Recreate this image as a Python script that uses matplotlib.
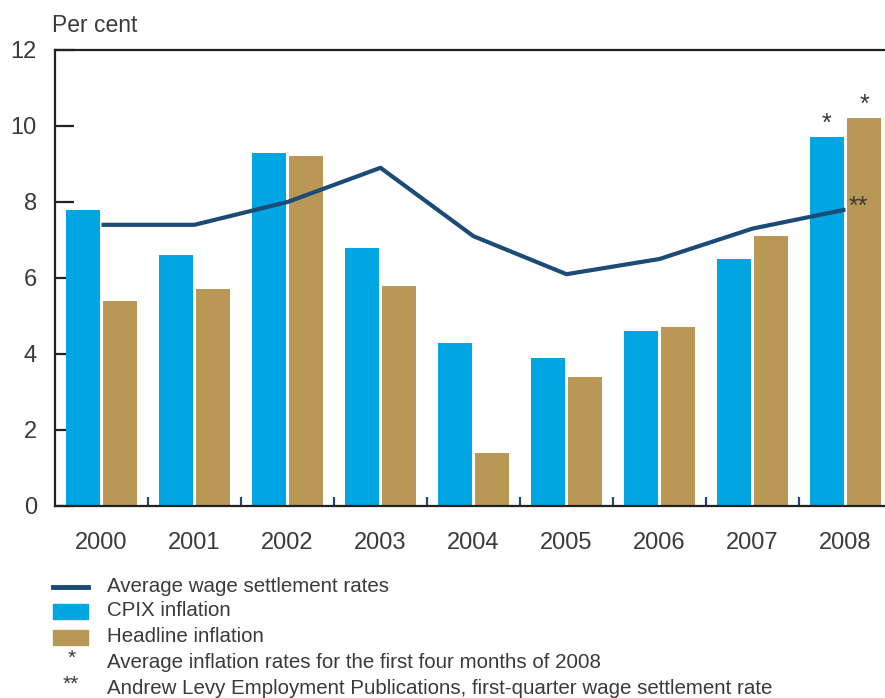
import matplotlib.pyplot as plt
from matplotlib.lines import Line2D
from matplotlib.patches import Rectangle
import numpy as np

plt.rcParams['font.family'] = ['Liberation Sans', 'DejaVu Sans']

# Data
years = ["2000", "2001", "2002", "2003", "2004", "2005", "2006", "2007", "2008"]
cpix = [7.8, 6.6, 9.3, 6.8, 4.3, 3.9, 4.6, 6.5, 9.7]
headline = [5.4, 5.7, 9.2, 5.8, 1.4, 3.4, 4.7, 7.1, 10.2]
wage = [7.4, 7.4, 8.0, 8.9, 7.1, 6.1, 6.5, 7.3, 7.8]

blue = "#00a6e2"
tan = "#b99755"
navy = "#1b4b76"
txt = "#3a3a3a"

fig = plt.figure(figsize=(8.85, 6.98), dpi=100)
W, H = 885, 698
ax = fig.add_axes([55 / W, 1 - 506 / H, 1 - 55 / W, (506 - 50) / H])

x = np.arange(len(years))
bw = 0.366
ax.bar(x - 0.2, cpix, width=bw, color=blue, zorder=2)
ax.bar(x + 0.2, headline, width=bw, color=tan, zorder=2)
ax.plot(x, wage, color=navy, lw=3, zorder=3, solid_capstyle="butt")

ax.set_xlim(-0.5, 8.425)
ax.set_ylim(0, 12)

for s in ["left", "top", "bottom"]:
    ax.spines[s].set_linewidth(1.6)
    ax.spines[s].set_color("#222222")
ax.spines["right"].set_visible(False)

ax.set_yticks(range(0, 13, 2))
ax.tick_params(axis="y", direction="in", length=14, width=1.6, color="#222222",
               labelsize=17, labelcolor=txt, pad=13)
ax.set_xticks(x)
ax.set_xticklabels(years)
ax.tick_params(axis="x", which="major", length=0, labelsize=17, labelcolor=txt, pad=19)
ax.set_xticks(x[:-1] + 0.5, minor=True)
ax.tick_params(axis="x", which="minor", direction="in", length=6.5, width=1.6, color=navy)

fig.text(52 / W, 1 - 25 / H, "Per cent", fontsize=16.5, color=txt, ha="left", va="center")

# footnote markers
ax.annotate("*", (x[-1] - 0.2, cpix[-1]), xytext=(0, 1), textcoords="offset points",
            ha="center", va="bottom", fontsize=18, color=txt)
ax.annotate("*", (x[-1] + 0.2, headline[-1]), xytext=(0, 1), textcoords="offset points",
            ha="center", va="bottom", fontsize=18, color=txt)
ax.annotate("**", (x[-1], wage[-1]), xytext=(2, 2), textcoords="offset points",
            ha="left", va="center", fontsize=18, color=txt)

# legend
def fy(py):
    return 1 - py / H

fig.add_artist(Line2D([53 / W, 88 / W], [fy(587), fy(587)], color=navy, lw=3.5))
fig.add_artist(Rectangle((53 / W, fy(619)), 35 / W, 15 / H, color=blue))
fig.add_artist(Rectangle((53 / W, fy(645)), 35 / W, 15 / H, color=tan))
labels = ["Average wage settlement rates", "CPIX inflation", "Headline inflation",
          "Average inflation rates for the first four months of 2008",
          "Andrew Levy Employment Publications, first-quarter wage settlement rate"]
ys = [587, 611, 637, 662, 688]
for lab, py in zip(labels, ys):
    fig.text(107 / W, fy(py), lab, fontsize=14.8, color=txt, va="center", ha="left")
fig.text(72 / W, fy(658), "*", fontsize=15, color=txt, va="center", ha="center")
fig.text(71 / W, fy(684), "**", fontsize=15, color=txt, va="center", ha="center")

fig.savefig("out.png", dpi=100)
